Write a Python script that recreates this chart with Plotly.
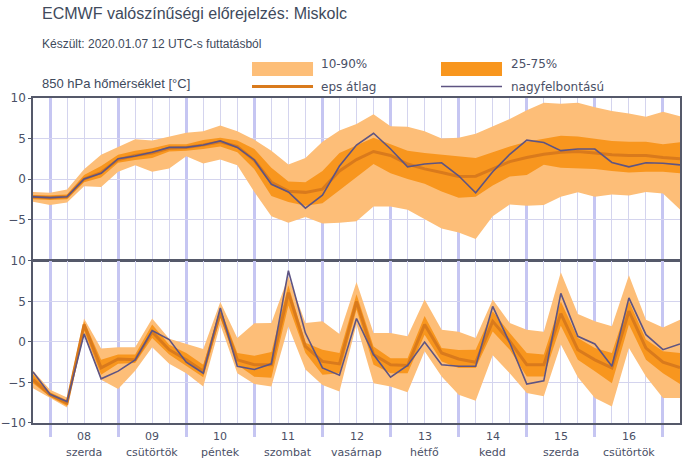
import pandas as pd
import plotly.graph_objects as go

# idopontok: 2020.01.07 18 UTC-tol 6 orankent
times = pd.date_range("2020-01-07 18:00", periods=39, freq="6h")

# 850 hPa homerseklet (felso panel)
t850_p10 = [-2.8, -3.2, -2.9, -0.9, -1.0, 0.9, 1.7, 0.9, 1.3, 2.8, 1.9, 2.4, 1.7,
            -1.6, -4.6, -5.4, -4.7, -5.5, -5.4, -5.2, -3.4, -3.4, -3.8, -4.9, -6.1, -6.6,
            -7.4, -4.6, -3.15, -3.3, -3.2, -2.2, -1.65, -2.2, -1.9, -2.05, -1.6, -1.8, -3.75]
t850_p25 = [-2.5, -2.6, -2.5, -0.4, 0.2, 2.0, 2.35, 2.6, 3.4, 3.5, 3.7, 4.0, 3.3,
            1.2, -2.1, -2.85, -3.3, -3.0, -1.4, 0.2, 1.85, 0.7, 0.0, -0.6, -1.55, -2.3,
            -2.2, -0.8, 0.3, 0.5, 1.75, 1.4, 1.3, 1.25, 1.0, 0.8, 0.9, 0.9, 0.7]
t850_mean = [-2.2, -2.3, -2.2, 0.0, 0.8, 2.4, 2.9, 3.2, 3.8, 3.9, 4.2, 4.6, 4.0,
             2.3, -0.4, -1.5, -1.65, -1.25, 1.0, 2.4, 3.4, 2.9, 1.85, 1.25, 0.8, 0.3,
             0.35, 1.3, 2.15, 2.65, 3.05, 3.3, 3.4, 3.2, 3.0, 2.9, 2.9, 2.65, 2.5]
t850_p75 = [-2.0, -2.0, -1.9, 0.5, 1.6, 3.0, 3.5, 3.8, 4.3, 4.3, 4.8, 5.1, 4.75,
            3.7, 1.4, -0.3, -0.4, 1.0, 3.2, 4.1, 5.1, 4.3, 3.5, 3.2, 3.0, 2.8,
            2.6, 3.3, 4.0, 4.6, 5.0, 5.35, 5.25, 5.0, 4.7, 4.6, 4.6, 4.3, 4.55]
t850_p90 = [-1.6, -1.7, -1.3, 1.2, 3.0, 3.9, 4.9, 4.75, 5.2, 5.7, 5.9, 6.6, 5.9,
            4.85, 3.5, 1.8, 2.6, 4.6, 6.0, 6.8, 8.0, 6.5, 6.45, 5.9, 5.0, 5.1,
            5.6, 6.5, 7.4, 8.5, 9.4, 9.3, 9.4, 8.85, 8.4, 8.1, 7.7, 8.3, 7.75]
t850_hres = [-2.2, -2.3, -2.2, 0.0, 0.7, 2.5, 2.85, 3.3, 3.9, 3.9, 4.2, 4.7, 3.9,
             2.35, -0.65, -1.6, -3.6, -2.0, 1.6, 4.2, 5.65, 3.7, 1.5, 1.85, 2.0, 0.4,
             -1.7, 0.9, 3.05, 4.8, 4.5, 3.5, 3.7, 3.7, 2.05, 1.5, 2.0, 1.95, 1.75]

# 2 m homerseklet (also panel)
t2m_p10 = [-5.7, -6.9, -8.1, 0.9, -4.65, -5.8, -3.55, -0.65, -2.7, -3.85, -5.5, 2.15, -3.85,
           -5.2, -5.5, 1.9, -3.4, -5.3, -6.1, 2.2, -5.1, -5.5, -6.2, -1.15, -4.25, -6.5,
           -7.25, -1.65, -3.85, -6.3, -6.7, -0.3, -4.35, -6.9, -7.95, -0.75, -4.25, -6.9, -6.9]
t2m_p25 = [-5.1, -6.75, -7.9, 1.4, -4.05, -2.7, -2.6, 0.5, -1.55, -3.0, -4.35, 3.0, -2.8,
           -4.3, -4.4, 4.5, -1.35, -4.05, -3.85, 4.0, -2.8, -3.85, -3.85, 0.9, -2.4, -3.2,
           -3.2, 1.3, -0.95, -4.25, -4.25, 2.0, -2.2, -3.6, -5.1, 2.15, -2.2, -3.85, -5.2]
t2m_mean = [-4.65, -6.5, -7.55, 2.15, -3.2, -2.1, -2.2, 1.25, -0.95, -2.2, -3.6, 3.6, -2.2,
            -2.8, -2.8, 6.1, -0.55, -2.4, -2.7, 5.0, -1.55, -2.8, -2.9, 2.15, -1.35, -2.1,
            -2.5, 2.55, 0.1, -2.8, -2.8, 3.5, -0.95, -2.2, -3.2, 3.8, -0.75, -2.5, -3.15]
t2m_p75 = [-4.0, -6.2, -7.2, 2.55, -2.2, -1.55, -1.55, 2.15, -0.35, -1.35, -2.8, 4.2, -1.35,
           -1.7, -1.25, 7.0, -0.1, -0.95, -1.35, 5.9, -0.55, -2.0, -2.0, 3.2, -0.75, -1.0,
           -0.95, 3.8, 1.1, -1.35, -1.55, 5.0, 0.5, -0.75, -1.35, 5.05, 0.3, -1.15, -1.35]
t2m_p90 = [-3.55, -5.9, -6.85, 2.9, -0.8, -0.65, -0.65, 2.9, 0.4, -0.2, -0.85, 4.95, 0.5,
           2.3, 2.35, 8.1, 2.35, 2.55, 1.0, 7.4, 1.1, 1.1, 0.7, 5.25, 1.5, 1.25,
           0.5, 5.25, 2.35, 1.5, 1.25, 8.6, 3.45, 2.55, 1.95, 8.25, 2.75, 1.8, 2.75]
t2m_hres = [-3.7, -6.45, -7.35, 1.0, -4.55, -3.6, -2.2, 1.4, 0.3, -2.5, -3.85, 4.2, -3.0,
            -3.4, -2.7, 8.8, 1.1, -3.2, -4.1, 2.9, -1.55, -4.35, -2.9, 0.0, -2.8, -3.0,
            -3.0, 4.4, -0.1, -5.2, -4.8, 6.0, 0.7, -0.25, -3.0, 5.45, 0.9, -0.95, -0.25]

# napok (delben feliratozva)
day_noon = pd.date_range("2020-01-08 12:00", periods=9, freq="1D")
day_num = ["08", "09", "10", "11", "12", "13", "14", "15", "16"]
day_name = ["szerda", "csütörtök", "péntek", "szombat", "vasárnap",
            "hétfő", "kedd", "szerda", "csütörtök"]
midnights = pd.date_range("2020-01-08 00:00", periods=10, freq="1D")

c_light = "#fdbe78"
c_dark = "#f8961e"
c_mean = "#d97a1c"
c_hres = "#5e5482"
grid_thin = "#d4d4ee"
grid_thick = "#c6c6f2"
axis_col = "#55596a"
txt_col = "#4a5066"

fig = go.Figure()


def add_panel(xa, ya, p10, p25, mean, p75, p90, hres):
    kw = dict(x=times, xaxis=xa, yaxis=ya, showlegend=False, hoverinfo="skip")
    fig.add_trace(go.Scatter(y=p10, mode="lines", line=dict(width=0, color=c_light), **kw))
    fig.add_trace(go.Scatter(y=p90, mode="lines", line=dict(width=0, color=c_light),
                             fill="tonexty", fillcolor=c_light, **kw))
    fig.add_trace(go.Scatter(y=p25, mode="lines", line=dict(width=0, color=c_dark), **kw))
    fig.add_trace(go.Scatter(y=p75, mode="lines", line=dict(width=0, color=c_dark),
                             fill="tonexty", fillcolor=c_dark, **kw))
    fig.add_trace(go.Scatter(y=mean, mode="lines", line=dict(width=3, color=c_mean), **kw))
    fig.add_trace(go.Scatter(y=hres, mode="lines", line=dict(width=1.6, color=c_hres), **kw))


add_panel("x", "y", t850_p10, t850_p25, t850_mean, t850_p75, t850_p90, t850_hres)
add_panel("x2", "y2", t2m_p10, t2m_p25, t2m_mean, t2m_p75, t2m_p90, t2m_hres)

xcommon = dict(
    type="date",
    range=[times[0], times[-1]],
    tickvals=midnights,
    ticktext=[""] * len(midnights),
    showgrid=True, gridcolor=grid_thick, gridwidth=3,
    minor=dict(dtick=6 * 3600 * 1000, showgrid=True, gridcolor=grid_thin, gridwidth=1),
    showline=True, linecolor=axis_col, linewidth=1.5, mirror=True,
    zeroline=False, automargin=False,
)
ycommon = dict(
    range=[-10, 10],
    showgrid=True, gridcolor=grid_thin, gridwidth=1,
    showline=True, linecolor=axis_col, linewidth=1.5, mirror=True,
    zeroline=False, automargin=False,
    ticks="outside", ticklen=3, tickcolor=axis_col,
    tickfont=dict(family="DejaVu Sans", size=12, color=txt_col),
)

fig.update_layout(
    width=683, height=463,
    margin=dict(l=33, r=3, t=98, b=40),
    paper_bgcolor="white", plot_bgcolor="white",
    xaxis=dict(domain=[0, 1], anchor="y", ticks="", **xcommon),
    xaxis2=dict(domain=[0, 1], anchor="y2", matches="x",
                ticks="outside", ticklen=12, tickwidth=3, tickcolor=grid_thick, **xcommon),
    yaxis=dict(domain=[0.5015, 1], anchor="x", tickvals=[-5, 0, 5, 10], **ycommon),
    yaxis2=dict(domain=[0, 0.4985], anchor="x2", tickvals=[-10, -5, 0, 5, 10], **ycommon),
)

# napok feliratai
for d, num, name in zip(day_noon, day_num, day_name):
    fig.add_annotation(x=d, y=-0.043, xref="x2", yref="paper", text=num, showarrow=False,
                       font=dict(family="DejaVu Sans", size=11, color=txt_col),
                       xanchor="center", yanchor="middle")
    fig.add_annotation(x=d, y=-0.092, xref="x2", yref="paper", text=name, showarrow=False,
                       font=dict(family="DejaVu Sans", size=11, color=txt_col),
                       xanchor="center", yanchor="middle")

# cimek
fig.add_annotation(x=0.0108, y=1.2585, xref="paper", yref="paper", showarrow=False,
                   text="ECMWF valószínűségi előrejelzés: Miskolc",
                   font=dict(family="Liberation Sans", size=16, color="#404a5c"),
                   xanchor="left", yanchor="middle")
fig.add_annotation(x=0.0108, y=1.166, xref="paper", yref="paper", showarrow=False,
                   text="Készült: 2020.01.07 12 UTC-s futtatásból",
                   font=dict(family="Liberation Sans", size=12, color="#404a5c"),
                   xanchor="left", yanchor="middle")
fig.add_annotation(x=0.0108, y=1.046, xref="paper", yref="paper", showarrow=False,
                   text="850 hPa hőmérséklet [°C]",
                   font=dict(family="Liberation Sans", size=13, color="#404a5c"),
                   xanchor="left", yanchor="middle")

# jelmagyarazat
leg_font = dict(family="DejaVu Sans", size=12, color=txt_col)
fig.add_shape(type="rect", xref="paper", yref="paper", x0=0.3385, x1=0.4328,
              y0=1.0677, y1=1.1108, fillcolor=c_light, line=dict(width=0))
fig.add_shape(type="rect", xref="paper", yref="paper", x0=0.6306, x1=0.7249,
              y0=1.0677, y1=1.1108, fillcolor=c_dark, line=dict(width=0))
fig.add_shape(type="line", xref="paper", yref="paper", x0=0.3385, x1=0.4328,
              y0=1.0354, y1=1.0354, line=dict(color=c_mean, width=3))
fig.add_shape(type="line", xref="paper", yref="paper", x0=0.6306, x1=0.7249,
              y0=1.0354, y1=1.0354, line=dict(color=c_hres, width=1.6))
for lx, ly, lt in [(0.442, 1.1046, "10-90%"), (0.7357, 1.1046, "25-75%"),
                   (0.442, 1.0338, "eps átlag"), (0.7357, 1.0338, "nagyfelbontású")]:
    fig.add_annotation(x=lx, y=ly, xref="paper", yref="paper", text=lt, showarrow=False,
                       font=leg_font, xanchor="left", yanchor="middle")

# a lap alapertelmezett 8 px-es margojat kivesszuk
fig.write_html("out.html", config={"displayModeBar": False},
               post_script="document.body.style.margin='0';document.body.style.overflow='hidden';")
